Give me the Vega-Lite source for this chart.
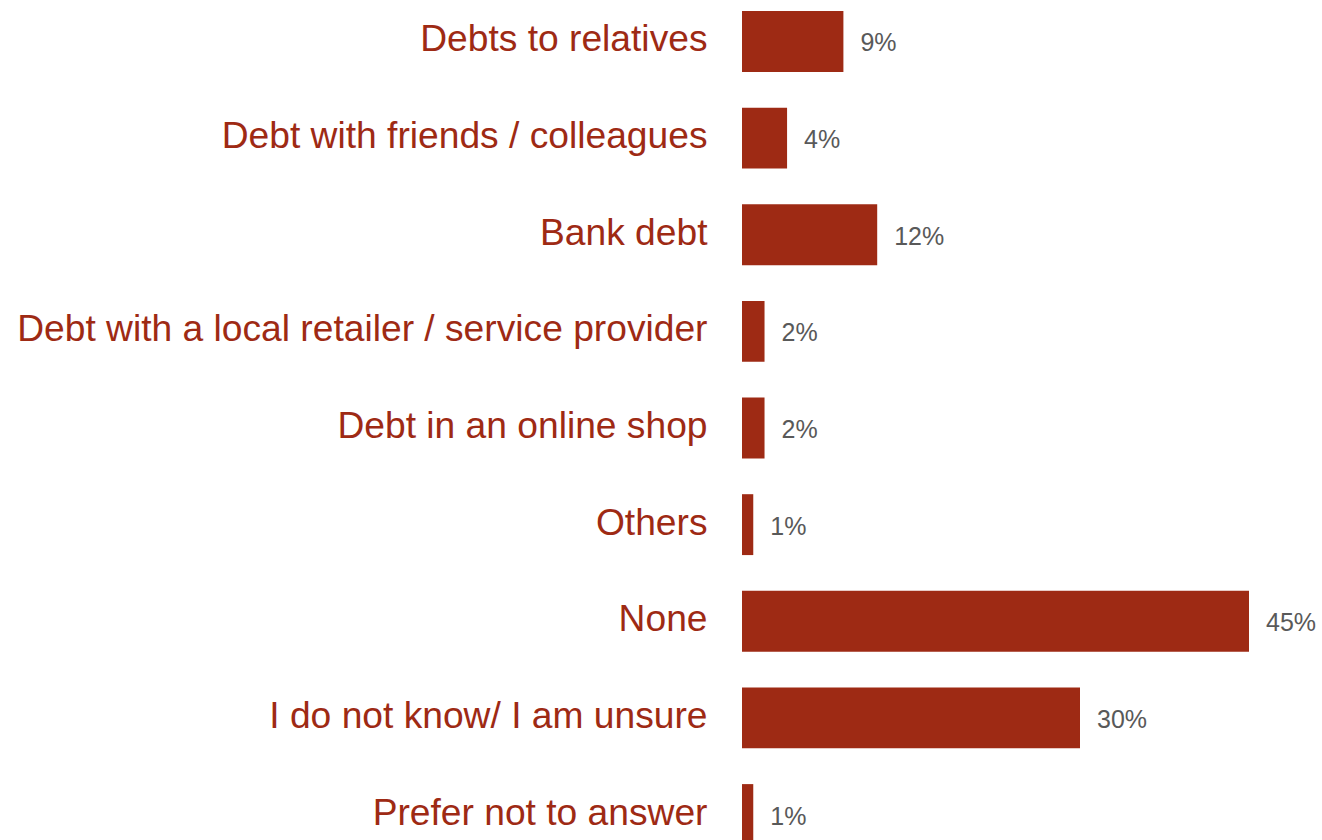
{
  "$schema": "https://vega.github.io/schema/vega-lite/v6.json",
  "autosize": {"type": "none"},
  "padding": {"left": 742, "right": 73, "top": 0, "bottom": 0},
  "width": 507,
  "height": 856,
  "background": "white",
  "config": {"view": {"stroke": null}},
  "data": {"values": [
    {"cat": "Debts to relatives", "v": 9, "label": "9%"},
    {"cat": "Debt with friends / colleagues", "v": 4, "label": "4%"},
    {"cat": "Bank debt", "v": 12, "label": "12%"},
    {"cat": "Debt with a local retailer / service provider", "v": 2, "label": "2%"},
    {"cat": "Debt in an online shop", "v": 2, "label": "2%"},
    {"cat": "Others", "v": 1, "label": "1%"},
    {"cat": "None", "v": 45, "label": "45%"},
    {"cat": "I do not know/ I am unsure", "v": 30, "label": "30%"},
    {"cat": "Prefer not to answer", "v": 1, "label": "1%"}
  ]},
  "encoding": {
    "y": {"field": "cat", "type": "nominal", "sort": null,
      "scale": {"paddingInner": 0.37, "paddingOuter": 0.114},
      "axis": {"title": null, "ticks": false, "domain": false, "labelPadding": 35, "labelLimit": 800,
        "labelFont": "Liberation Sans", "labelFontSize": 37.2, "labelColor": "#9E2A14", "labelOffset": -1}},
    "x": {"field": "v", "type": "quantitative", "scale": {"domain": [0, 45], "nice": false}, "axis": null}
  },
  "layer": [
    {"mark": {"type": "bar", "color": "#9E2A14"}},
    {"mark": {"type": "text", "align": "left", "baseline": "middle", "dx": 17, "dy": 2, "font": "Liberation Sans", "fontSize": 25, "color": "#595959"},
     "encoding": {"text": {"field": "label", "type": "nominal"}}}
  ]
}
